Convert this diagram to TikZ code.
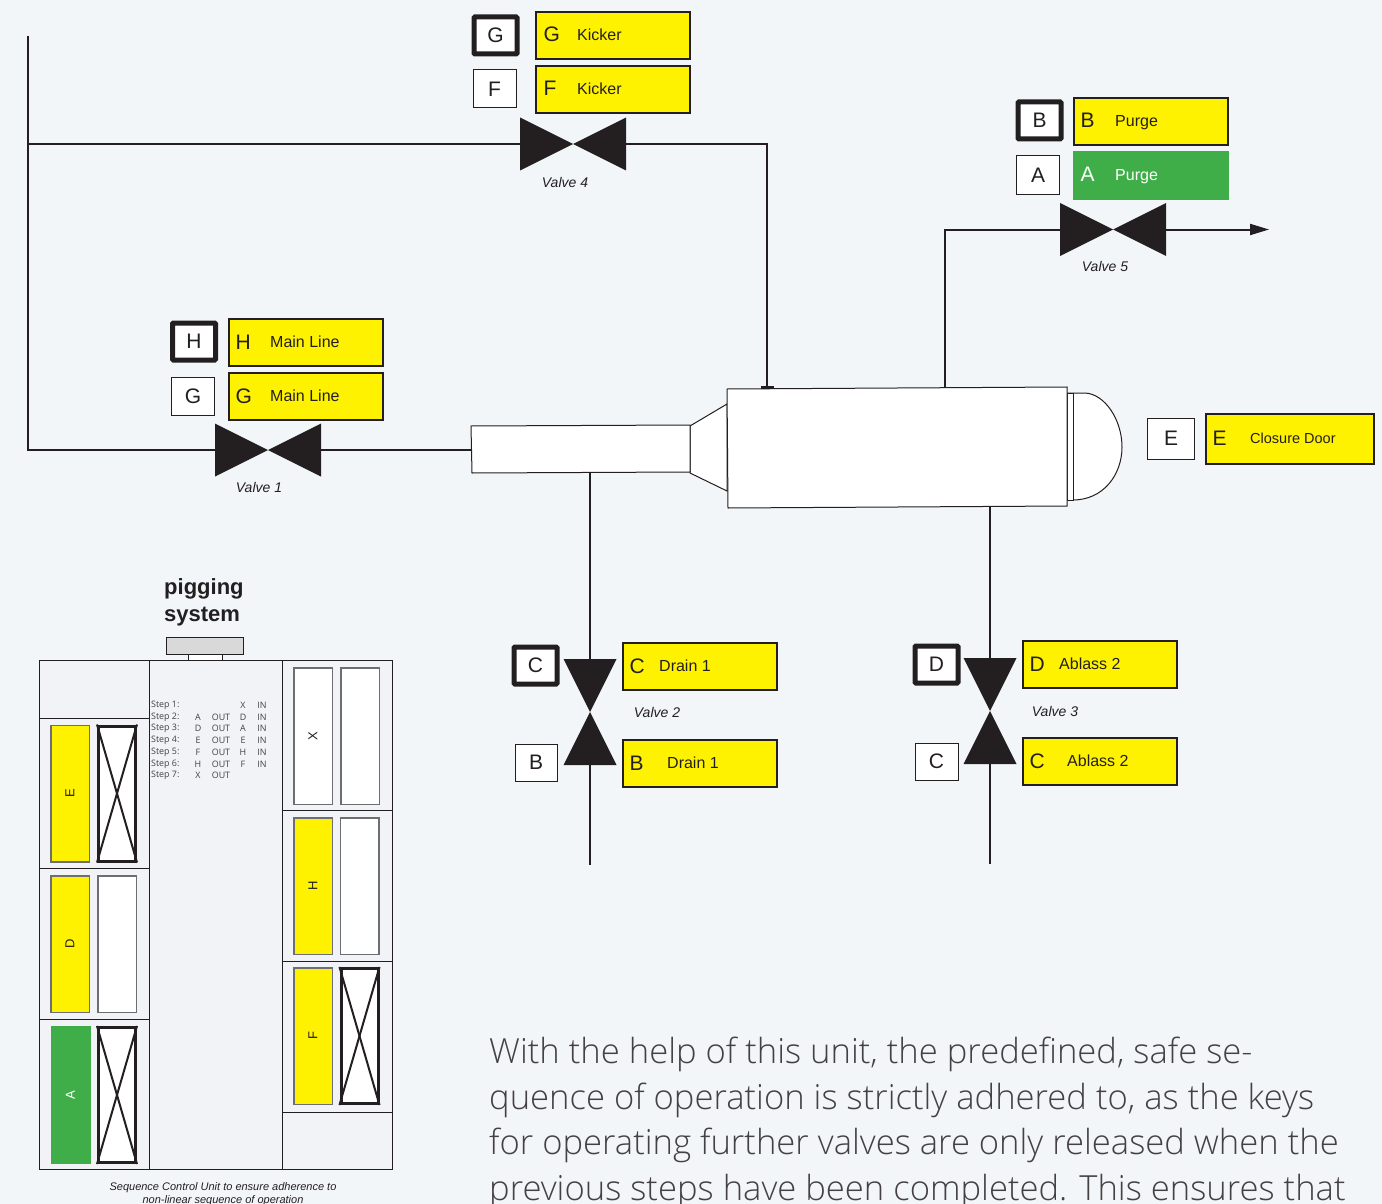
\documentclass[tikz,border=0pt]{standalone}
\usepackage{fontspec}
\setmainfont{Liberation Sans}
\newfontfamily\bodyfont{Open Sans}
\newfontfamily\lightfont{Open Sans Light}
\usetikzlibrary{arrows.meta}
\definecolor{pagebg}{HTML}{F2F6F9}
\definecolor{panelbg}{HTML}{F1F3F6}
\definecolor{tagyellow}{HTML}{FFF200}
\definecolor{taggreen}{HTML}{3FAE49}
\definecolor{ink}{HTML}{231F20}
\definecolor{slotgrey}{HTML}{6D6E71}
\tikzset{
	pipe/.style={draw=ink, line width=2pt},
	thin line/.style={draw=ink, line width=1pt},
	valveh/.style={inner sep=0, minimum width=106pt, minimum height=53pt, path picture={
		\fill[ink] (path picture bounding box.north west) -- (path picture bounding box.south east)
			-- (path picture bounding box.north east) -- (path picture bounding box.south west) -- cycle;}},
	valvev/.style={inner sep=0, minimum width=53pt, minimum height=106pt, path picture={
		\fill[ink] (path picture bounding box.north west) -- (path picture bounding box.south east)
			-- (path picture bounding box.south west) -- (path picture bounding box.north east) -- cycle;}},
	keybox/.style={draw=ink, fill=white, line width=1pt, inner sep=0, font=\fontsize{21}{21}\selectfont, text=ink},
	keyheld/.style={keybox, line width=5pt, rounded corners=1pt},
	tagbox/.style={draw=ink, fill=tagyellow, line width=2pt, inner sep=0, minimum width=154.5pt, minimum height=47.5pt},
	tagletter/.style={anchor=base west, inner sep=0, text=ink, font=\fontsize{21}{21}\selectfont},
	tagtext/.style={anchor=base west, inner sep=0, text=ink, font=\fontsize{16}{16}\selectfont},
	valvename/.style={inner sep=0, text=ink, font=\fontsize{14}{14}\selectfont\itshape},
	slot/.style={draw=slotgrey, fill=white, line width=1.5pt, inner sep=0, minimum width=38.5pt, minimum height=136.5pt},
	slotyellow/.style={slot, fill=tagyellow},
	slotgreen/.style={slot, draw=none, fill=taggreen, minimum width=40pt, minimum height=138pt},
	slotcross/.style={slot, draw=ink, line width=3pt, minimum width=37pt, minimum height=135pt},
	slotname/.style={inner sep=0, rotate=90, text=ink, font=\fontsize{13}{13}\selectfont},
	stepcell/.style={inner sep=0, text=ink!85, font=\bodyfont\fontsize{8.9}{9}\selectfont},
}
\begin{document}
\begin{tikzpicture}[x=1pt, y=-1pt]
	\useasboundingbox (0,0) rectangle (1382,1204);
	\clip (0,0) rectangle (1382,1204);
	\fill[pagebg] (0,0) rectangle (1382,1204);

	% valves
	\node[valveh] (V4) at (573,144) {};
	\node[valveh] (V5) at (1113,229.5) {};
	\node[valveh] (V1) at (268,450) {};
	\node[valvev] (V2) at (590,712) {};
	\node[valvev] (V3) at (990,711) {};
	\node[valvename] (nV4) at (565,182) {Valve 4};
	\node[valvename] (nV5) at (1105,266) {Valve 5};
	\node[valvename] (nV1) at (259,487) {Valve 1};
	\node[valvename] (nV2) at (657,712) {Valve 2};
	\node[valvename] (nV3) at (1055,711) {Valve 3};

	% vessel
	\coordinate (T) at (28,36);
	\coordinate (L4) at (28,144);
	\coordinate (L1) at (28,450);
	\coordinate (R4) at (767,144);
	\coordinate (K) at (767,388);
	\coordinate (P5) at (945,388);
	\coordinate (Q5) at (945,229.5);
	\coordinate (Out) at (1269,229.5);
	\coordinate (Tube) at (471,450);
	\coordinate (D1) at (590,473);
	\coordinate (E1) at (590,865);
	\coordinate (D2) at (990,507);
	\coordinate (E2) at (990,864);
	\draw[thin line, fill=white] (690,426) -- (727,404) -- (727,491) -- (690,473) -- cycle;
	\draw[thin line, fill=white] (471,426) -- (690,425) -- (690,472) -- (472,473) -- cycle;
	\draw[thin line, fill=white] (1067,393) -- (1085,393) .. controls (1105,394) and (1122,420) .. (1122,447)
		.. controls (1122,475) and (1103,500) .. (1073,500) -- (1067,500);
	\draw[thin line, fill=white] (1067,393) rectangle (1073,500);
	\draw[thin line, fill=white] (727,389) -- (1067,387) -- (1067,506) -- (728,508) -- cycle;

	% pipes
	\draw[pipe] (T) -- (L1) -- (V1.west);
	\draw[pipe] (V1.east) -- (Tube);
	\draw[pipe] (L4) -- (V4.west);
	\draw[pipe] (V4.east) -- (R4) -- (K);
	\fill[ink] (761,386) rectangle (774,389);
	\draw[pipe] (P5) -- (Q5) -- (V5.west);
	\draw[pipe, -{Triangle[length=19pt,width=11pt]}] (V5.east) -- (Out);
	\draw[pipe] (D1) -- (V2.north);
	\draw[pipe] (V2.south) -- (E1);
	\draw[pipe] (D2) -- (V3.north);
	\draw[pipe] (V3.south) -- (E2);

	% keys
	\node[keyheld, minimum width=43pt, minimum height=37pt] (kG1) at (495.5,35.5) {G};
	\node[keybox, minimum width=43pt, minimum height=38pt] (kF) at (494.5,89) {F};
	\node[keyheld, minimum width=43pt, minimum height=37pt] (kB1) at (1039.5,120.5) {B};
	\node[keybox, minimum width=43pt, minimum height=38pt] (kA) at (1038,175) {A};
	\node[keyheld, minimum width=43pt, minimum height=37pt] (kH) at (194,341.5) {H};
	\node[keybox, minimum width=43pt, minimum height=38pt] (kG2) at (193,396) {G};
	\node[keybox, minimum width=47pt, minimum height=41pt] (kE) at (1171,438.5) {E};
	\node[keyheld, minimum width=43pt, minimum height=37pt] (kC1) at (535.5,665.5) {C};
	\node[keybox, minimum width=42pt, minimum height=37pt] (kB2) at (536,762.5) {B};
	\node[keyheld, minimum width=43pt, minimum height=37pt] (kD) at (936.5,664.5) {D};
	\node[keybox, minimum width=43pt, minimum height=37pt] (kC2) at (936.5,761.5) {C};

	% tags
	\foreach \n/\x/\y/\c/\l/\tx/\t in {
		G4/612.75/35.5/G/551/577/Kicker,
		F4/612.75/89.5/F/551/577/Kicker,
		B5/1150.75/121.5/B/1088/1115/Purge,
		H1/305.75/342.5/H/243/270/Main Line,
		G1/305.75/396.5/G/243/270/Main Line,
		C2/699.75/666.5/C/637/659/Drain 1,
		B2/699.75/763.5/B/637/667/Drain 1,
		D3/1099.75/664.5/D/1037/1059/Ablass 2,
		C3/1099.75/761.5/C/1037/1067/Ablass 2} {
		\node[tagbox] (tag\n) at (\x,\y) {};
		\node[tagletter] (let\n) at (\l-7.5,\y+6.5) {\c};
		\node[tagtext] (txt\n) at (\tx,\y+5.25) {\t};
	}
	\node[tagbox, draw=none, fill=taggreen, minimum width=156pt, minimum height=49pt] (tagA5) at (1151,175.5) {};
	\node[tagletter, text=white] (letA5) at (1080.5,182) {A};
	\node[tagtext, text=white] (txtA5) at (1115,180.5) {Purge};
	\node[tagbox, minimum width=168pt, minimum height=50pt] (tagE) at (1290,439) {};
	\node[tagletter] (letE) at (1212.5,445.5) {E};
	\node[tagtext, font=\fontsize{14.5}{15}\selectfont] (txtE) at (1250,443) {Closure Door};

	% control unit
	\node[anchor=north west, inner sep=0, align=left, text=ink, font=\fontsize{22}{27}\selectfont\bfseries] (title) at (164,578) {pigging\\system};
	\draw[draw=ink, line width=1pt, fill=white] (188,654) rectangle (222,660);
	\draw[draw=ink, line width=1pt, fill=black!15] (166,637) rectangle (243,654);
	\draw[thin line, fill=panelbg] (39.5,660) rectangle (392.5,1169.5);
	\draw[thin line] (149,660) -- (149,1169.5);
	\draw[thin line] (282,660) -- (282,1169.5);
	\foreach \y in {718,868.5,1019} \draw[thin line] (39.5,\y) -- (149,\y);
	\foreach \y in {810.5,961,1112} \draw[thin line] (282,\y) -- (392.5,\y);

	\foreach \n/\x/\y/\s/\c in {
		E/70/793.5/slotyellow/E,
		D/70/944/slotyellow/D,
		X/313/736/slot/X,
		H/313/886/slotyellow/H,
		F/313/1036/slotyellow/F} {
		\node[\s] (s\n) at (\x,\y) {};
		\node[slotname] (c\n) at (\x,\y) {\c};
	}
	\node[slotgreen] (sA) at (70.5,1095) {};
	\node[slotname, text=white] (cA) at (70.5,1095) {A};
	\node[slot] (eD) at (117,944) {};
	\node[slot] (eX) at (360,736) {};
	\node[slot] (eH) at (359.5,886) {};
	\foreach \n/\x/\y in {E/117/793.5, A/117/1095, F/359.5/1036} {
		\node[slotcross] (e\n) at (\x,\y) {};
		\draw[pipe] (e\n.north west) -- (e\n.south east);
		\draw[pipe] (e\n.north east) -- (e\n.south west);
	}

	% steps
	\foreach \n/\y/\a/\b/\c/\d in {
		2/717/A/OUT/D/IN,
		3/728/D/OUT/A/IN,
		4/740/E/OUT/E/IN,
		5/752/F/OUT/H/IN,
		6/764/H/OUT/F/IN} {
		\node[stepcell, anchor=west] (st\n) at (151,\y) {Step \n:};
		\node[stepcell] (sa\n) at (198,\y) {\a};
		\node[stepcell] (sb\n) at (221,\y) {\b};
		\node[stepcell] (sc\n) at (243,\y) {\c};
		\node[stepcell] (sd\n) at (262,\y) {\d};
	}
	\node[stepcell, anchor=west] (st1) at (151,705) {Step 1:};
	\node[stepcell] (sc1) at (243,705) {X};
	\node[stepcell] (sd1) at (262,705) {IN};
	\node[stepcell, anchor=west] (st7) at (151,775) {Step 7:};
	\node[stepcell] (sa7) at (198,775) {X};
	\node[stepcell] (sb7) at (221,775) {OUT};

	\node[inner sep=0, align=center, text=ink, font=\fontsize{11}{13.5}\selectfont\itshape] (cap) at (223,1194) {Sequence Control Unit to ensure adherence to\\non-linear sequence of operation};

	% body text
	\node[anchor=base west, inner sep=0, align=left, text=ink!85, font=\lightfont\fontsize{34.6}{45.4}\selectfont] (body) at (489,1200) {With the help of this unit, the predefined, safe se-\\quence of operation is strictly adhered to, as the keys\\for operating further valves are only released when the\\previous steps have been completed. This ensures that};
\end{tikzpicture}
\end{document}
